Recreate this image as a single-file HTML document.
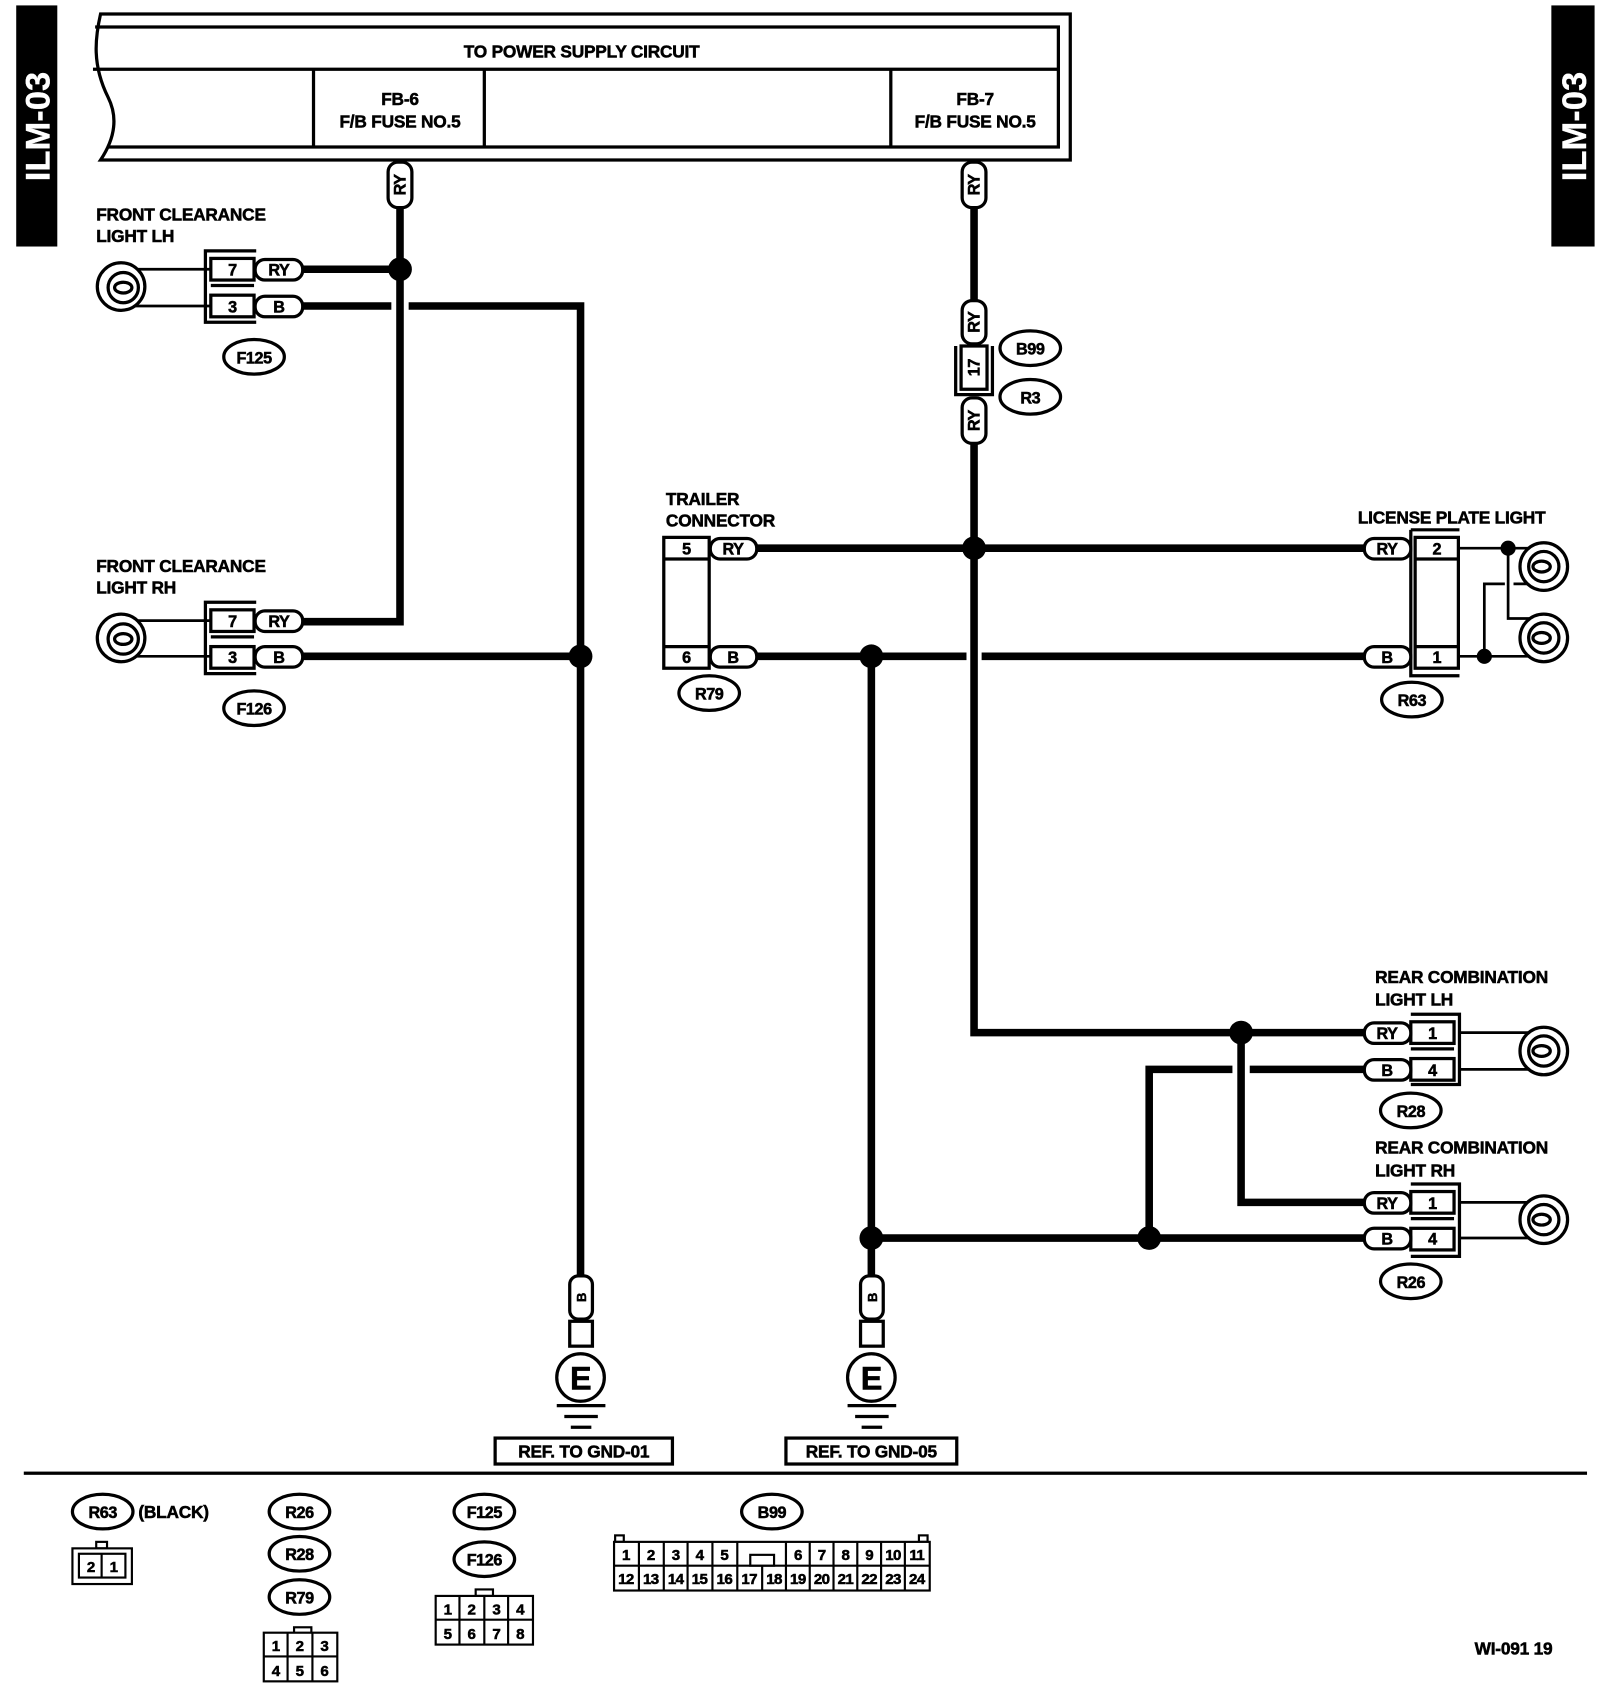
<!DOCTYPE html>
<html><head><meta charset="utf-8"><style>
html,body{margin:0;padding:0;background:#fff;}
svg{display:block;}
text{font-family:"Liberation Sans",Arial,sans-serif;font-weight:bold;fill:#000;stroke:#000;stroke-width:0.5;}
</style></head><body>
<svg width="1600" height="1690" viewBox="0 0 1480 1563" preserveAspectRatio="none" xmlns="http://www.w3.org/2000/svg">
<rect x="0" y="0" width="1480" height="1563" fill="#fff"/>
<rect x="15" y="5" width="38" height="223" fill="#000"/>
<text x="0" y="0" transform="translate(46,117) rotate(-90)" text-anchor="middle" font-size="32" font-weight="bold" style="fill:#fff;stroke:#fff;stroke-width:0.3">ILM-03</text>
<rect x="1435" y="5" width="40" height="223" fill="#000"/>
<text x="0" y="0" transform="translate(1467,117) rotate(-90)" text-anchor="middle" font-size="32" font-weight="bold" style="fill:#fff;stroke:#fff;stroke-width:0.3">ILM-03</text>

<g fill="none" stroke="#000">
<path d="M93,13 L990,13 L990,148 L93,148 C105,130 110,110 100,90 C85,60 88,35 93,13 Z" stroke-width="3" fill="#fff"/>
<path d="M88,25 L979,25 L979,136 L100,136" stroke-width="3"/>
<line x1="86" y1="64" x2="979" y2="64" stroke-width="3"/>
<line x1="290" y1="64" x2="290" y2="136" stroke-width="3"/>
<line x1="448" y1="64" x2="448" y2="136" stroke-width="3"/>
<line x1="824" y1="64" x2="824" y2="136" stroke-width="3"/>

<g stroke-width="7">
<polyline points="370,192 370,575 280,575"/>
<line x1="280" y1="249" x2="370" y2="249"/>
<line x1="280" y1="283" x2="362" y2="283"/>
<polyline points="378,283 537,283 537,1180"/>
<line x1="280" y1="607" x2="537" y2="607"/>
<line x1="901" y1="192" x2="901" y2="278"/>
<polyline points="901,410 901,955 1262,955"/>
<line x1="700" y1="507" x2="1262" y2="507"/>
<line x1="700" y1="607" x2="894" y2="607"/>
<line x1="908" y1="607" x2="1262" y2="607"/>
<line x1="806" y1="607" x2="806" y2="1180"/>
<polyline points="1148,955 1148,1112 1262,1112"/>
<line x1="1262" y1="989" x2="1156" y2="989"/>
<polyline points="1140,989 1063,989 1063,1145"/>
<line x1="806" y1="1145" x2="1262" y2="1145"/>
</g>
<g stroke-width="2.5">
<line x1="235" y1="249" x2="112" y2="249"/>
<line x1="235" y1="283" x2="112" y2="283"/>
<line x1="235" y1="574" x2="112" y2="574"/>
<line x1="235" y1="607" x2="112" y2="607"/>
<line x1="1350" y1="507" x2="1425" y2="507"/>
<polyline points="1395,507 1395,572 1425,572"/>
<line x1="1350" y1="607" x2="1425" y2="607"/>
<polyline points="1373,607 1373,540 1392,540"/>
<line x1="1400" y1="540" x2="1425" y2="540"/>
<line x1="1350" y1="955" x2="1428" y2="955"/>
<line x1="1350" y1="989" x2="1428" y2="989"/>
<line x1="1350" y1="1112" x2="1428" y2="1112"/>
<line x1="1350" y1="1145" x2="1428" y2="1145"/>
</g>
</g>
<g fill="#000">
<circle cx="370" cy="249" r="11"/><circle cx="537" cy="607" r="11"/>
<circle cx="901" cy="507" r="11"/><circle cx="806" cy="607" r="11"/>
<circle cx="806" cy="1145" r="11"/><circle cx="1063" cy="1145" r="11"/>
<circle cx="1148" cy="955" r="11"/>
<circle cx="1395" cy="507" r="7"/><circle cx="1373" cy="607" r="7"/>
</g>

<g fill="#fff" stroke="#000" stroke-width="3">
<circle cx="112" cy="265" r="22"/><circle cx="114" cy="266" r="14"/><ellipse cx="114" cy="266" rx="8" ry="5"/>
<circle cx="112" cy="590" r="22"/><circle cx="114" cy="591" r="14"/><ellipse cx="114" cy="591" rx="8" ry="5"/>
<circle cx="1428" cy="524" r="22"/><circle cx="1428" cy="524" r="14"/><ellipse cx="1426" cy="524" rx="8" ry="5"/>
<circle cx="1428" cy="590" r="22"/><circle cx="1428" cy="590" r="14"/><ellipse cx="1426" cy="590" rx="8" ry="5"/>
<circle cx="1428" cy="972" r="22"/><circle cx="1428" cy="972" r="14"/><ellipse cx="1426" cy="972" rx="8" ry="5"/>
<circle cx="1428" cy="1128" r="22"/><circle cx="1428" cy="1128" r="14"/><ellipse cx="1426" cy="1128" rx="8" ry="5"/>
</g>

<g fill="#fff" stroke="#000" stroke-width="3">
<polyline points="237,232 190,232 190,298 237,298" fill="none"/>
<rect x="195" y="239" width="40" height="20"/><rect x="195" y="273" width="40" height="20"/>
<line x1="195" y1="264" x2="235" y2="264"/>
<rect x="236" y="240" width="44" height="19" rx="9"/><rect x="236" y="274" width="44" height="19" rx="9"/>
<polyline points="237,557 190,557 190,623 237,623" fill="none"/>
<rect x="195" y="564" width="40" height="20"/><rect x="195" y="598" width="40" height="20"/>
<line x1="195" y1="589" x2="235" y2="589"/>
<rect x="236" y="565" width="44" height="19" rx="9"/><rect x="236" y="598" width="44" height="19" rx="9"/>
<rect x="614" y="497" width="42" height="121"/>
<line x1="614" y1="517" x2="656" y2="517"/><line x1="614" y1="598" x2="656" y2="598"/>
<rect x="657" y="498" width="43" height="19" rx="9"/><rect x="657" y="598" width="43" height="19" rx="9"/>
<polyline points="1305,490 1305,625 1350,625" fill="none"/>
<line x1="1305" y1="490" x2="1350" y2="490"/>
<rect x="1309" y="497" width="40" height="121"/>
<line x1="1309" y1="517" x2="1349" y2="517"/><line x1="1309" y1="598" x2="1349" y2="598"/>
<rect x="1262" y="498" width="43" height="19" rx="9"/><rect x="1262" y="598" width="43" height="19" rx="9"/>
<polyline points="1305,938 1350,938 1350,1003 1305,1003" fill="none"/>
<rect x="1305" y="945" width="40" height="20"/><rect x="1305" y="979" width="40" height="20"/>
<line x1="1305" y1="970" x2="1345" y2="970"/>
<rect x="1262" y="946" width="43" height="19" rx="9"/><rect x="1262" y="980" width="43" height="19" rx="9"/>
<polyline points="1305,1095 1350,1095 1350,1162 1305,1162" fill="none"/>
<rect x="1305" y="1102" width="40" height="20"/><rect x="1305" y="1136" width="40" height="20"/>
<line x1="1305" y1="1127" x2="1345" y2="1127"/>
<rect x="1262" y="1103" width="43" height="19" rx="9"/><rect x="1262" y="1136" width="43" height="19" rx="9"/>
<rect x="359" y="150" width="22" height="42" rx="9"/>
<rect x="890" y="150" width="22" height="42" rx="9"/>
<rect x="890" y="278" width="22" height="40" rx="9"/>
<polyline points="884,320 884,365 918,365 918,320" fill="none"/>
<rect x="889" y="320" width="24" height="40"/>
<rect x="890" y="368" width="22" height="42" rx="9"/>
<rect x="527" y="1180" width="21" height="40" rx="8"/>
<rect x="527" y="1222" width="21" height="23"/>
<circle cx="537" cy="1274" r="22"/>
<rect x="796" y="1180" width="21" height="40" rx="8"/>
<rect x="796" y="1222" width="21" height="23"/>
<circle cx="806" cy="1274" r="22"/>
<rect x="458" y="1330" width="164" height="24"/>
<rect x="727" y="1330" width="158" height="24"/>
<ellipse cx="235" cy="330" rx="28" ry="16"/><ellipse cx="235" cy="655" rx="28" ry="16"/>
<ellipse cx="953" cy="322" rx="28" ry="16"/><ellipse cx="953" cy="367" rx="28" ry="16"/>
<ellipse cx="656" cy="641" rx="28" ry="16"/><ellipse cx="1306" cy="647" rx="28" ry="16"/>
<ellipse cx="1305" cy="1027" rx="28" ry="16"/><ellipse cx="1305" cy="1185" rx="28" ry="16"/>
<ellipse cx="95" cy="1398" rx="28" ry="16"/><ellipse cx="277" cy="1398" rx="28" ry="16"/>
<ellipse cx="277" cy="1437" rx="28" ry="16"/><ellipse cx="277" cy="1477" rx="28" ry="16"/>
<ellipse cx="448" cy="1398" rx="28" ry="16"/><ellipse cx="448" cy="1442" rx="28" ry="16"/>
<ellipse cx="714" cy="1398" rx="28" ry="16"/>
</g>
<g stroke="#000" stroke-width="3">
<line x1="515" y1="1300" x2="560" y2="1300"/><line x1="522" y1="1310" x2="553" y2="1310"/><line x1="528" y1="1320" x2="547" y2="1320"/>
<line x1="784" y1="1300" x2="829" y2="1300"/><line x1="791" y1="1310" x2="822" y2="1310"/><line x1="797" y1="1320" x2="816" y2="1320"/>
</g>
<rect x="22" y="1361" width="1446" height="3" fill="#000"/>

<g fill="#fff" stroke="#000" stroke-width="2">
<rect x="89" y="1426" width="10" height="6"/>
<rect x="67" y="1432" width="55" height="33"/><rect x="73" y="1437" width="43" height="22"/>
<line x1="94" y1="1437" x2="94" y2="1459"/>
<rect x="272" y="1505" width="16" height="6"/>
<rect x="244" y="1510" width="68" height="45"/>
<line x1="244" y1="1532" x2="312" y2="1532"/><line x1="266" y1="1510" x2="266" y2="1555"/><line x1="289" y1="1510" x2="289" y2="1555"/>
<rect x="440" y="1470" width="16" height="6"/>
<rect x="403" y="1476" width="90" height="45"/>
<line x1="403" y1="1498" x2="493" y2="1498"/><line x1="425" y1="1476" x2="425" y2="1521"/><line x1="448" y1="1476" x2="448" y2="1521"/><line x1="470" y1="1476" x2="470" y2="1521"/>
<rect x="569" y="1420" width="8" height="6"/><rect x="850" y="1420" width="8" height="6"/>
<rect x="568" y="1426" width="292" height="45"/>
<line x1="568" y1="1448" x2="860" y2="1448"/>
<line x1="591" y1="1426" x2="591" y2="1471"/><line x1="614" y1="1426" x2="614" y2="1471"/><line x1="636" y1="1426" x2="636" y2="1471"/><line x1="659" y1="1426" x2="659" y2="1471"/><line x1="682" y1="1426" x2="682" y2="1471"/>
<line x1="705" y1="1448" x2="705" y2="1471"/>
<rect x="694" y="1438" width="22" height="10"/>
<line x1="727" y1="1426" x2="727" y2="1471"/><line x1="749" y1="1426" x2="749" y2="1471"/><line x1="771" y1="1426" x2="771" y2="1471"/><line x1="793" y1="1426" x2="793" y2="1471"/><line x1="815" y1="1426" x2="815" y2="1471"/><line x1="837" y1="1426" x2="837" y2="1471"/>
</g>

<g font-size="16" letter-spacing="-0.2" font-weight="bold">
<text x="538" y="53" text-anchor="middle">TO POWER SUPPLY CIRCUIT</text>
<text x="370" y="97" text-anchor="middle">FB-6</text><text x="370" y="118" text-anchor="middle">F/B FUSE NO.5</text>
<text x="902" y="97" text-anchor="middle">FB-7</text><text x="902" y="118" text-anchor="middle">F/B FUSE NO.5</text>
<text x="89" y="204">FRONT CLEARANCE</text><text x="89" y="224">LIGHT LH</text>
<text x="89" y="529">FRONT CLEARANCE</text><text x="89" y="549">LIGHT RH</text>
<text x="616" y="467">TRAILER</text><text x="616" y="487">CONNECTOR</text>
<text x="1256" y="484">LICENSE PLATE LIGHT</text>
<text x="1272" y="909">REAR COMBINATION</text><text x="1272" y="930">LIGHT LH</text>
<text x="1272" y="1067">REAR COMBINATION</text><text x="1272" y="1088">LIGHT RH</text>
<text x="540" y="1348" text-anchor="middle">REF. TO GND-01</text>
<text x="806" y="1348" text-anchor="middle">REF. TO GND-05</text>
<text x="1400" y="1530" text-anchor="middle">WI-091 19</text>
<text x="128" y="1404">(BLACK)</text>
</g>
<g font-size="15" text-anchor="middle" letter-spacing="-0.4" font-weight="bold">
<text x="215" y="255">7</text><text x="215" y="289">3</text>
<text x="258" y="255">RY</text><text x="258" y="289">B</text>
<text x="215" y="580">7</text><text x="215" y="613">3</text>
<text x="258" y="580">RY</text><text x="258" y="613">B</text>
<text x="635" y="513">5</text><text x="635" y="613">6</text>
<text x="678" y="513">RY</text><text x="678" y="613">B</text>
<text x="1329" y="513">2</text><text x="1329" y="613">1</text>
<text x="1283" y="513">RY</text><text x="1283" y="613">B</text>
<text x="1325" y="961">1</text><text x="1325" y="995">4</text>
<text x="1283" y="961">RY</text><text x="1283" y="995">B</text>
<text x="1325" y="1118">1</text><text x="1325" y="1151">4</text>
<text x="1283" y="1118">RY</text><text x="1283" y="1151">B</text>
<text x="235" y="336">F125</text><text x="235" y="661">F126</text>
<text x="953" y="328">B99</text><text x="953" y="373">R3</text>
<text x="656" y="647">R79</text><text x="1306" y="653">R63</text>
<text x="1305" y="1033">R28</text><text x="1305" y="1191">R26</text>
<text x="95" y="1404">R63</text><text x="277" y="1404">R26</text><text x="277" y="1443">R28</text><text x="277" y="1483">R79</text>
<text x="448" y="1404">F125</text><text x="448" y="1448">F126</text><text x="714" y="1404">B99</text>
<text x="0" y="0" transform="translate(375,171) rotate(-90)">RY</text>
<text x="0" y="0" transform="translate(906,171) rotate(-90)">RY</text>
<text x="0" y="0" transform="translate(906,298) rotate(-90)">RY</text>
<text x="0" y="0" transform="translate(906,340) rotate(-90)">17</text>
<text x="0" y="0" transform="translate(906,389) rotate(-90)">RY</text>
<text x="0" y="0" transform="translate(542,1200) rotate(-90)" font-size="12">B</text>
<text x="0" y="0" transform="translate(811,1200) rotate(-90)" font-size="12">B</text>
<text x="537" y="1285" font-size="30">E</text><text x="806" y="1285" font-size="30">E</text>
</g>
<g font-size="14" text-anchor="middle" letter-spacing="-0.6" font-weight="bold">
<text x="84" y="1454">2</text><text x="105" y="1454">1</text>
<text x="255" y="1527">1</text><text x="277" y="1527">2</text><text x="300" y="1527">3</text>
<text x="255" y="1550">4</text><text x="277" y="1550">5</text><text x="300" y="1550">6</text>
<text x="414" y="1493">1</text><text x="436" y="1493">2</text><text x="459" y="1493">3</text><text x="481" y="1493">4</text>
<text x="414" y="1516">5</text><text x="436" y="1516">6</text><text x="459" y="1516">7</text><text x="481" y="1516">8</text>
<text x="579" y="1443">1</text><text x="602" y="1443">2</text><text x="625" y="1443">3</text><text x="647" y="1443">4</text><text x="670" y="1443">5</text>
<text x="738" y="1443">6</text><text x="760" y="1443">7</text><text x="782" y="1443">8</text><text x="804" y="1443">9</text><text x="826" y="1443">10</text><text x="848" y="1443">11</text>
<text x="579" y="1465">12</text><text x="602" y="1465">13</text><text x="625" y="1465">14</text><text x="647" y="1465">15</text><text x="670" y="1465">16</text><text x="693" y="1465">17</text><text x="716" y="1465">18</text>
<text x="738" y="1465">19</text><text x="760" y="1465">20</text><text x="782" y="1465">21</text><text x="804" y="1465">22</text><text x="826" y="1465">23</text><text x="848" y="1465">24</text>
</g>
</svg>
</body></html>
